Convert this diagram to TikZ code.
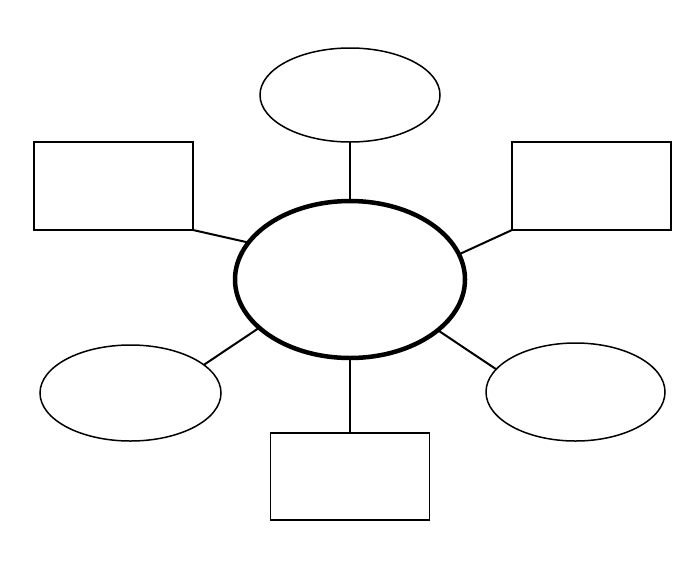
\documentclass[tikz,border=0pt]{standalone}
\usetikzlibrary{shapes.geometric}
\begin{document}
\begin{tikzpicture}[x=1pt,y=-1pt,
  oval/.style={draw,ellipse,line width=1.5pt,inner sep=0pt,outer sep=0pt},
  box/.style={draw,rectangle,line width=1.5pt,inner sep=0pt,outer sep=0pt,minimum width=159pt,minimum height=88pt},
  hub/.style={draw,ellipse,line width=4.5pt,inner sep=0pt,outer sep=0pt,minimum width=230pt,minimum height=157pt},
  link/.style={line width=2pt}]
\useasboundingbox (0,0) rectangle (700,560);
\fill[white] (0,0) rectangle (700,560);
\node[hub] (c) at (350,279.5) {};
\node[oval,minimum width=180pt,minimum height=94pt] (t) at (350,95) {};
\node[box] (l) at (113.5,186) {};
\node[box] (r) at (591.5,186) {};
\node[oval,minimum width=181pt,minimum height=96pt] (bl) at (130.5,393) {};
\node[oval,minimum width=179pt,minimum height=98pt] (br) at (575.5,392) {};
\node[box,minimum height=87pt] (b) at (350,476.5) {};
\draw[link] (t.south) -- (c.north);
\draw[link] (l.south east) -- (c.160.8);
\draw[link] (r.south west) -- (c.13.8);
\draw[link] (bl.21.8) -- (c.208.3);
\draw[link] (br.164.5) -- (c.330.8);
\draw[link] (b.north) -- (c.south);
\end{tikzpicture}
\end{document}
